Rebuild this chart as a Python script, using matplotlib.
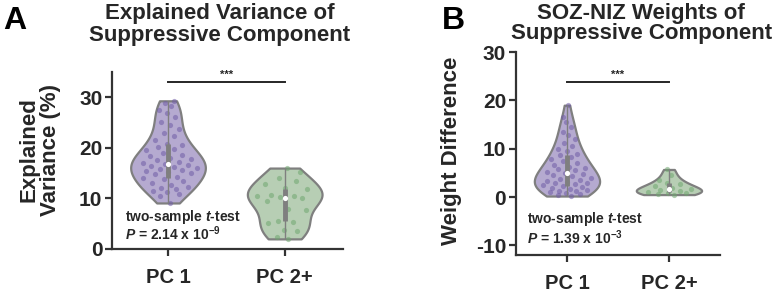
import numpy as np
import matplotlib
matplotlib.use("Agg")
import matplotlib.pyplot as plt

# ---------------------------------------------------------------
# dados
# ---------------------------------------------------------------
grupos = ["PC 1", "PC 2+"]

var_pc1 = [9.1, 10.5, 10.8, 11.2, 11.5, 11.8, 12.0, 12.3, 12.6, 13.0,
           13.4, 13.8, 14.0, 14.3, 14.8, 15.0, 15.3, 15.5, 15.6, 15.8,
           16.0, 16.3, 16.5, 16.7, 16.8, 17.0, 17.2, 17.5, 17.8, 18.0,
           18.3, 18.6, 19.0, 19.5, 19.8, 20.2, 20.6, 20.8, 21.5, 22.3,
           23.0, 23.8, 24.5, 25.2, 26.0, 26.8, 27.5, 28.3, 28.8, 29.3]
var_pc2 = [2.0, 2.3, 3.5, 3.8, 5.2, 5.4, 5.6, 7.8, 8.0, 9.5, 10.0,
           10.2, 10.4, 10.5, 10.6, 11.8, 12.0, 12.8, 13.5, 14.0, 15.2, 16.0]

peso_pc1 = [0.2, 0.4, 0.6, 0.8, 1.0, 1.2, 1.3, 1.5, 1.7, 1.9, 2.0, 2.2,
            2.4, 2.6, 2.8, 3.0, 3.2, 3.4, 3.6, 3.8, 4.0, 4.3, 4.6, 4.8,
            5.0, 5.2, 5.5, 5.8, 6.0, 6.3, 6.6, 7.0, 7.4, 7.8, 8.2, 8.6,
            9.0, 9.5, 10.0, 10.5, 11.2, 12.0, 12.8, 13.5, 14.5, 15.5,
            16.5, 19.0]
peso_pc2 = [0.5, 0.6, 0.8, 0.9, 1.0, 1.2, 1.4, 1.7, 1.9, 2.2, 2.6, 3.0,
            3.6, 4.5, 5.7]

ticks_a = [0, 10, 20, 30]
ticks_b = [-10, 0, 10, 20, 30]

# ---------------------------------------------------------------
# estilo
# ---------------------------------------------------------------
plt.rcParams['font.family'] = ['Liberation Sans', 'DejaVu Sans']
plt.rcParams['font.weight'] = 'bold'
plt.rcParams['mathtext.fontset'] = 'custom'
plt.rcParams['mathtext.rm'] = 'Liberation Sans:bold'
plt.rcParams['mathtext.bf'] = 'Liberation Sans:bold'
plt.rcParams['mathtext.it'] = 'Liberation Sans:italic:bold'

cor_texto = "#262626"
cor_borda = "#7f7f7f"
faces = ["#b5aad0", "#b7ceb4"]
pontos = ["#6f5ca6", "#6fa66f"]


def violino(ax, series):
    res = ax.violinplot(series, positions=[0, 1], widths=0.64,
                        showextrema=False)
    for i, corpo in enumerate(res['bodies']):
        corpo.set_facecolor(faces[i])
        corpo.set_edgecolor(cor_borda)
        corpo.set_linewidth(1.6)
        corpo.set_alpha(1)
        # pontos com jitter dentro do violino
        v = corpo.get_paths()[0].vertices
        direita = v[v[:, 0] >= i]
        ordem = np.argsort(direita[:, 1])
        yy = direita[ordem, 1]
        hw = direita[ordem, 0] - i
        dados = np.array(series[i])
        larg = np.interp(dados, yy, hw)
        u = ((np.arange(len(dados)) + 1) * 0.6180339887) % 1 * 2 - 1
        ax.scatter(i + u * larg * 0.8, dados, s=14, color=pontos[i],
                   alpha=0.55, linewidths=0, zorder=3)
        # caixa interna
        q1, med, q3 = np.percentile(dados, [25, 50, 75])
        ax.vlines(i, dados.min(), dados.max(), color=cor_borda, lw=1.0,
                  zorder=4)
        ax.vlines(i, q1, q3, color=cor_borda, lw=3.5, zorder=4)
        ax.scatter([i], [med], s=14, color="white", zorder=5, linewidths=0)


def eixos(ax, yticks, ylim):
    ax.set_xlim(-0.48, 1.5)
    ax.set_ylim(*ylim)
    ax.set_xticks([0, 1])
    ax.set_xticklabels(grupos, fontsize=14.5, fontweight='bold', color=cor_texto)
    ax.set_yticks(yticks)
    ax.set_yticklabels([str(t) for t in yticks], fontsize=15,
                       fontweight='bold', color=cor_texto)
    for lado in ['top', 'right']:
        ax.spines[lado].set_visible(False)
    for lado in ['left', 'bottom']:
        ax.spines[lado].set_linewidth(1.6)
        ax.spines[lado].set_color("#333333")
    ax.tick_params(width=1.6, length=5, color="#333333", pad=2)
    ax.tick_params(axis='x', pad=9)


fig = plt.figure(figsize=(7.8, 2.92), dpi=100)

# painel A
ax1 = fig.add_axes([0.1436, 0.1473, 0.2962, 0.6062])
violino(ax1, [var_pc1, var_pc2])
eixos(ax1, ticks_a, (0, 35))
ax1.plot([0, 1], [33, 33], color="#262626", lw=1.4)
ax1.text(0.5, 33.4, "***", ha='center', va='bottom', fontsize=8,
         color=cor_texto)
ax1.text(-0.37, 5.6, r"two-sample $t$-test", fontsize=10, color=cor_texto)
ax1.text(-0.37, 1.8, r"$P$ = 2.14 x 10$^{-9}$", fontsize=10, color=cor_texto)

# painel B
ax2 = fig.add_axes([0.6615, 0.1267, 0.2615, 0.6952])
violino(ax2, [peso_pc1, peso_pc2])
eixos(ax2, ticks_b, (-12, 30))
ax2.set_xlim(-0.5, 1.5)
ax2.plot([0, 1], [23.8, 23.8], color="#262626", lw=1.4)
ax2.text(0.5, 24.2, "***", ha='center', va='bottom', fontsize=8,
         color=cor_texto)
ax2.text(-0.39, -5.4, r"two-sample $t$-test", fontsize=10, color=cor_texto)
ax2.text(-0.39, -9.7, r"$P$ = 1.39 x 10$^{-3}$", fontsize=10, color=cor_texto)

# titulos e letras
fig.text(0.282, 0.99, "Explained Variance of\nSuppressive Component",
         ha='center', va='top', fontsize=16, fontweight='bold',
         color=cor_texto, linespacing=1.05)
fig.text(0.822, 0.99, "SOZ-NIZ Weights of\nSuppressive Component",
         ha='center', va='top', fontsize=16, fontweight='bold',
         color=cor_texto, linespacing=0.95)
fig.text(0.004, 0.98, "A", ha='left', va='top', fontsize=23,
         fontweight='bold', color="black")
fig.text(0.566, 0.98, "B", ha='left', va='top', fontsize=23,
         fontweight='bold', color="black")

fig.text(40 / 780, 1 - 150 / 292, "Explained\nVariance (%)", rotation=90,
         ha='center', va='center', fontsize=16, fontweight='bold',
         color=cor_texto, linespacing=1.05)
fig.text(451 / 780, 1 - 151 / 292, "Weight Difference", rotation=90,
         ha='center', va='center', fontsize=16, fontweight='bold',
         color=cor_texto)

fig.savefig("out.png", dpi=100)
